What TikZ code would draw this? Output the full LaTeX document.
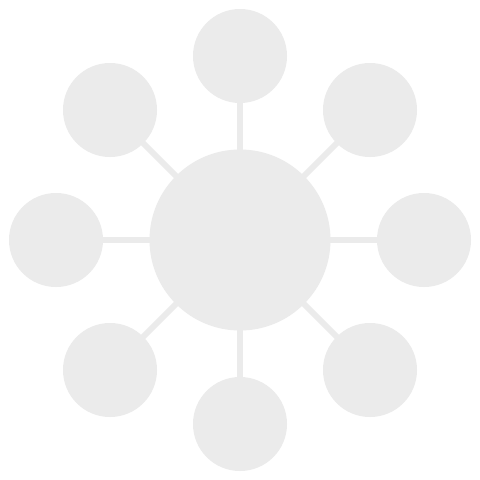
\documentclass[tikz,border=0pt]{standalone}
\usetikzlibrary{backgrounds}
\definecolor{disc}{HTML}{EBEBEB}
\begin{document}
\begin{tikzpicture}[x=1pt,y=-1pt,
  hub/.style={circle,fill=disc,draw=none,minimum size=181pt,inner sep=0pt},
  sat/.style={circle,fill=disc,draw=none,minimum size=94pt,inner sep=0pt},
  link/.style={draw=disc,line width=6pt}]
\useasboundingbox (0,0) rectangle (480,480);
\node[hub] (c) at (240,240) {};
\node[sat] (n) at (240,56) {};
\node[sat] (ne) at (370,110) {};
\node[sat] (e) at (424,240) {};
\node[sat] (se) at (370,370) {};
\node[sat] (s) at (240,424) {};
\node[sat] (sw) at (110,370) {};
\node[sat] (w) at (56,240) {};
\node[sat] (nw) at (110,110) {};
\begin{scope}[on background layer]
\fill[white] (0,0) rectangle (480,480);
\foreach \o in {n,ne,e,se,s,sw,w,nw}
  \draw[link] (c.center) -- (\o.center);
\end{scope}
\end{tikzpicture}
\end{document}
